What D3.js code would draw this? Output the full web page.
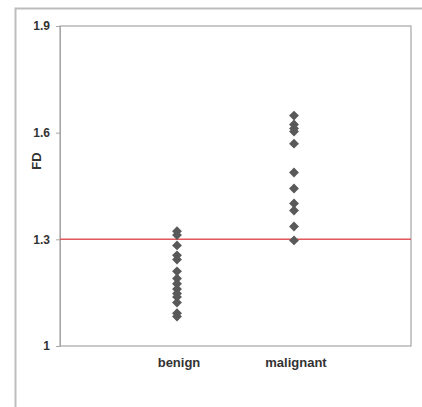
<!DOCTYPE html>
<html>
<head>
<meta charset="utf-8">
<script src="https://cdn.jsdelivr.net/npm/d3@7"></script>
<style>
  body { margin: 0; background: #fff; }
  text { font-family: "Liberation Sans", Arial, sans-serif; font-weight: bold; fill: #333; }
</style>
</head>
<body>
<svg id="chart" width="422" height="407"></svg>
<script>
// category names and their x positions
var categories = ["benign", "malignant"];
var benignFD = [1.323, 1.312, 1.283, 1.255, 1.243, 1.210, 1.190, 1.175, 1.160, 1.148, 1.138, 1.122, 1.092, 1.083];
var malignantFD = [1.648, 1.623, 1.612, 1.603, 1.569, 1.488, 1.443, 1.401, 1.381, 1.336, 1.297];
var yTicks = [1, 1.3, 1.6, 1.9];
var threshold = 1.3;

var svg = d3.select("#chart"),
    margin = { top: 26, right: 11, bottom: 61, left: 60 },
    width = +svg.attr("width") - margin.left - margin.right,
    height = +svg.attr("height") - margin.top - margin.bottom;

// outer chart frame (only top and left edges fall inside the window)
svg.append("path")
    .attr("d", "M15.5,407 V8.5 H422")
    .attr("fill", "none")
    .attr("stroke", "#bdbdbd")
    .attr("stroke-width", 2);

var x = d3.scaleLinear().domain([0, 3]).range([0, width]),
    y = d3.scaleLinear().domain([1, 1.9]).range([height, 0]);

var g = svg.append("g")
    .attr("transform", "translate(" + margin.left + "," + margin.top + ")");

// plot border
g.append("rect")
    .attr("x", 0).attr("y", 0)
    .attr("width", width).attr("height", height)
    .attr("fill", "none")
    .attr("stroke", "#a6a6a6")
    .attr("stroke-width", 1.2);

var yAxis = g.append("g")
    .call(d3.axisLeft(y).tickValues(yTicks).tickSize(4).tickPadding(6)
        .tickFormat(function (d) { return d === 1 ? "1" : d3.format(".1f")(d); }));
yAxis.select(".domain").attr("stroke", "#a6a6a6");
yAxis.selectAll(".tick line").attr("stroke", "#a6a6a6");
yAxis.selectAll(".tick text").attr("font-size", 12).attr("fill", "#333")
    .attr("font-family", "Liberation Sans, Arial, sans-serif").attr("font-weight", "bold");

// category labels
g.selectAll(".cat")
    .data(categories)
    .enter().append("text")
    .attr("class", "cat")
    .attr("x", function (d, i) { return x(i + 1) + 2; })
    .attr("y", height + 21)
    .attr("text-anchor", "middle")
    .attr("font-size", 13)
    .text(function (d) { return d; });

// y axis title
svg.append("text")
    .attr("transform", "translate(41," + (margin.top + y(1.52)) + ") rotate(-90)")
    .attr("text-anchor", "middle")
    .attr("font-size", 13)
    .text("FD");

// threshold line
g.append("line")
    .attr("x1", 0).attr("x2", width)
    .attr("y1", y(threshold)).attr("y2", y(threshold))
    .attr("stroke", "#e2575b")
    .attr("stroke-width", 1.5);

var diamond = d3.symbol().type(d3.symbolDiamond2).size(62);

var points = [];
benignFD.forEach(function (v) { points.push({ cat: 1, v: v }); });
malignantFD.forEach(function (v) { points.push({ cat: 2, v: v }); });

g.selectAll(".pt")
    .data(points)
    .enter().append("path")
    .attr("class", "pt")
    .attr("d", diamond)
    .attr("transform", function (d) { return "translate(" + x(d.cat) + "," + y(d.v) + ")"; })
    .attr("fill", "#595959");
</script>
</body>
</html>
